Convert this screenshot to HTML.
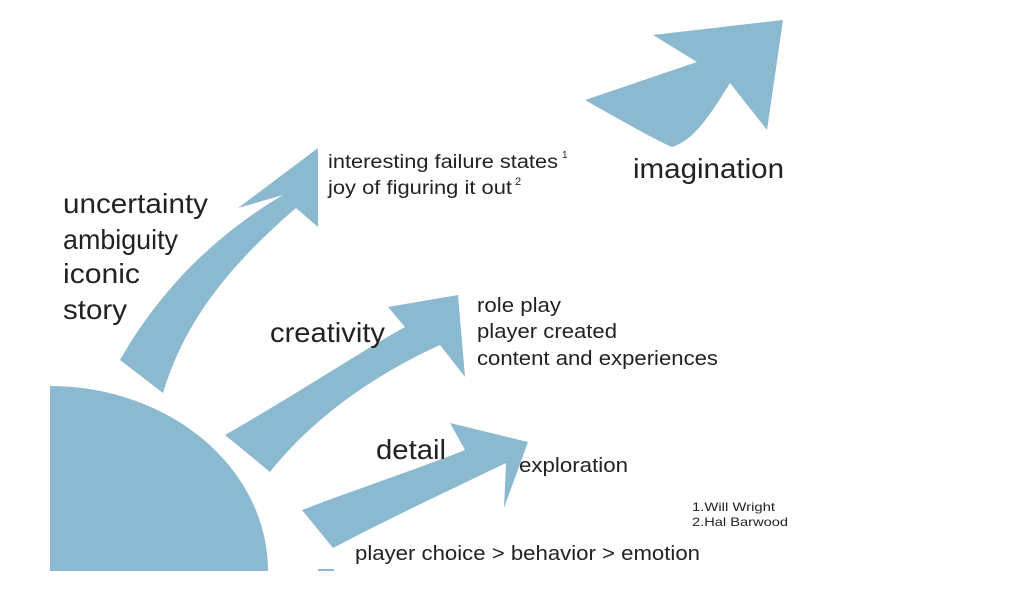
<!DOCTYPE html>
<html><head><meta charset="utf-8"><style>
html,body{margin:0;padding:0;background:#fff;width:1024px;height:610px;overflow:hidden;}
svg{display:block}
text{font-family:"Liberation Sans",Arial,sans-serif;fill:#222;}
</style></head><body>
<svg width="1024" height="610" viewBox="0 0 1024 610" xmlns="http://www.w3.org/2000/svg">
<defs><clipPath id="c"><rect x="50" y="380" width="240" height="191"/></clipPath></defs>
<g fill="#8bb9cf">
<ellipse cx="50" cy="571" rx="218" ry="185" clip-path="url(#c)"/>
<rect x="318" y="569" width="16" height="2"/>
<path d="M120,360 C160,290 215,235 283,195 L238,208 L318,148 L318,227 L296,208 C230,265 185,320 163,393 Z"/>
<path d="M225,435 C300,392 360,352 405,327 L388,307 L458,295 L465,377 L440,345 C380,372 315,415 270,472 Z"/>
<path d="M302,510 C360,488 420,468 465,450 L450,423 L528,442 L504,508 L506,463 C450,490 390,518 333,548 Z"/>
<path d="M585,100 L697,62 L653,35 L783,20 L767,130 L730,83 C712,112 695,140 672,147 Q655,140 585,100 Z"/>
</g>
<text x="63" y="213" font-size="28" textLength="145" lengthAdjust="spacingAndGlyphs">uncertainty</text>
<text x="63" y="249" font-size="28" textLength="115" lengthAdjust="spacingAndGlyphs">ambiguity</text>
<text x="63" y="283" font-size="28" textLength="77" lengthAdjust="spacingAndGlyphs">iconic</text>
<text x="63" y="319" font-size="28" textLength="64" lengthAdjust="spacingAndGlyphs">story</text>
<text x="328" y="168" font-size="19" textLength="230" lengthAdjust="spacingAndGlyphs">interesting failure states</text>
<text x="562" y="158" font-size="10">1</text>
<text x="328" y="194" font-size="19" textLength="184" lengthAdjust="spacingAndGlyphs">joy of figuring it out</text>
<text x="515" y="185" font-size="11">2</text>
<text x="633" y="178" font-size="28" textLength="151" lengthAdjust="spacingAndGlyphs">imagination</text>
<text x="270" y="342" font-size="28" textLength="115" lengthAdjust="spacingAndGlyphs">creativity</text>
<text x="477" y="312" font-size="20" textLength="84" lengthAdjust="spacingAndGlyphs">role play</text>
<text x="477" y="338" font-size="20" textLength="140" lengthAdjust="spacingAndGlyphs">player created</text>
<text x="477" y="365" font-size="20" textLength="241" lengthAdjust="spacingAndGlyphs">content and experiences</text>
<text x="376" y="459" font-size="28" textLength="70" lengthAdjust="spacingAndGlyphs">detail</text>
<text x="519" y="472" font-size="20" textLength="109" lengthAdjust="spacingAndGlyphs">exploration</text>
<text x="692" y="511" font-size="12" textLength="83" lengthAdjust="spacingAndGlyphs">1.Will Wright</text>
<text x="692" y="526" font-size="12" textLength="96" lengthAdjust="spacingAndGlyphs">2.Hal Barwood</text>
<text x="355" y="560" font-size="20" textLength="345" lengthAdjust="spacingAndGlyphs">player choice &gt; behavior &gt; emotion</text>
</svg>
</body></html>
